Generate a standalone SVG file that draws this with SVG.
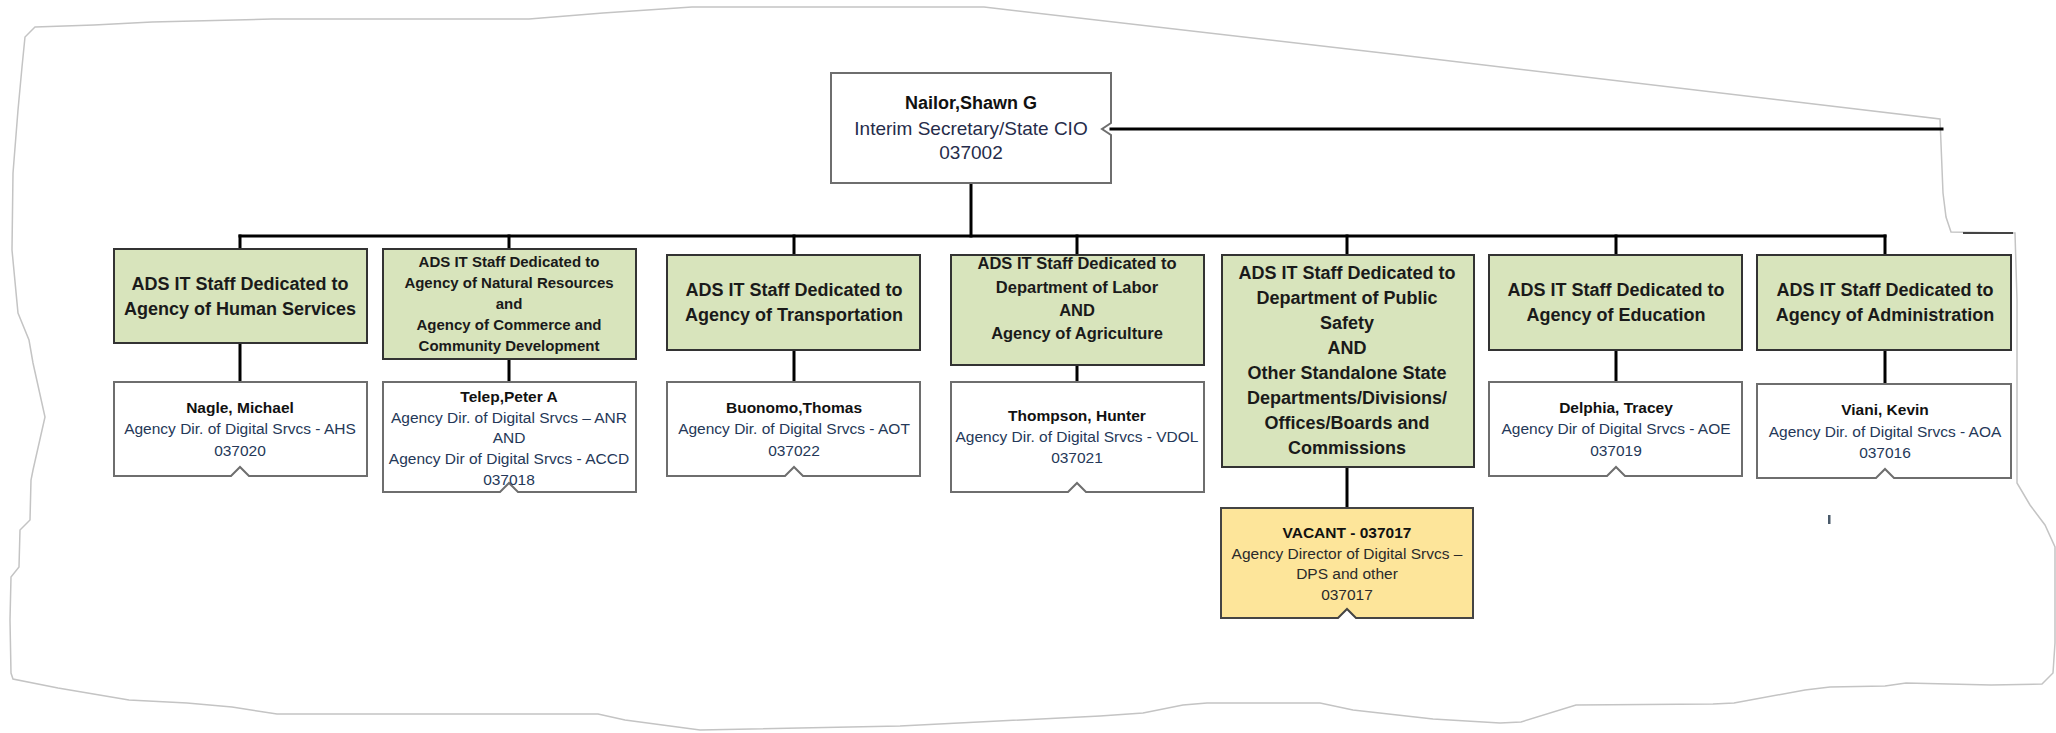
<svg xmlns="http://www.w3.org/2000/svg" width="2056" height="733" viewBox="0 0 2056 733">
<style>
.bg{fill:#ffffff}
.outline{fill:none;stroke:#c4c4c4;stroke-width:1.5}
.conn{fill:none;stroke:#000;stroke-width:3;stroke-linecap:square}
.green{fill:#d8e4bc;stroke:#333;stroke-width:2}
.white{fill:#fff;stroke:#6e6e6e;stroke-width:2}
.vac{fill:#fde59a;stroke:#444;stroke-width:2}
text{font-family:"Liberation Sans",Arial,sans-serif;text-anchor:middle}
.gh{font-size:18px;font-weight:bold;fill:#1a1a1a}
.gs{font-size:15px;font-weight:bold;fill:#1a1a1a}
.gm{font-size:16.5px;font-weight:bold;fill:#1a1a1a}
.nm{font-size:15.5px;font-weight:bold;fill:#111}
.tt{font-size:15.5px;fill:#253858}
.vt{font-size:15.5px;fill:#2a2a2a}
.tn{font-size:18px;font-weight:bold;fill:#111}
.tr{font-size:19px;fill:#262c4a}
</style>
<rect class="bg" x="0" y="0" width="2056" height="733"/>
<polygon class="outline" points="35,27 94,25 152,22 272,19 529,19 603,13 692,7 984,7 1400,55 1940,119 1943,193 1946,217 1951,232 2015,233 2017,300 2017,483 2030,505 2045,525 2055,547 2055,643 2053,673 2042,684 1991,685 1906,683 1885,686 1830,687 1805,690 1734,703 1713,704 1576,705 1521,722 1500,723 1433,719 1353,710 1320,703 1207,703 1183,705 1143,713 1100,716 900,726 700,730 625,720 598,714 277,714 232,707 187,703 129,700 58,688 13,679 11,673 10,620 11,577 19,567 20,530 30,520 31,480 33,470 45,417 33,363 29,340 18,313 12,250 13,173 18,110 22,67 25,37"/>
<line x1="1963" y1="233" x2="2013" y2="233" stroke="#444" stroke-width="2"/>
<rect x="1828" y="515" width="2.5" height="9" fill="#4a5a6a"/>
<g id="connectors">
<path class="conn" d="M971,183 V236"/>
<path class="conn" d="M240,236 H1885"/>
<path class="conn" d="M1111,129 H1942"/>
<path class="conn" d="M240,236 V249 M240,343 V382"/>
<path class="conn" d="M509,236 V249 M509,359 V382"/>
<path class="conn" d="M794,236 V255 M794,350 V382"/>
<path class="conn" d="M1077,236 V255 M1077,365 V382"/>
<path class="conn" d="M1347,236 V255 M1347,467 V508"/>
<path class="conn" d="M1616,236 V255 M1616,350 V382"/>
<path class="conn" d="M1885,236 V255 M1885,350 V384"/>
</g>
<g id="nailor">
<path class="white" d="M831,73 H1111 V123 L1102,129 L1111,135 V183 H831 Z"/>
<text class="tn" x="971" y="109">Nailor,Shawn G</text>
<text class="tr" x="971" y="135">Interim Secretary/State CIO</text>
<text class="tr" x="971" y="159">037002</text>
</g>
<g id="g-ahs">
<rect class="green" x="114" y="249" width="253" height="94"/>
<text class="gh" x="240" y="290">ADS IT Staff Dedicated to</text>
<text class="gh" x="240" y="315">Agency of Human Services</text>
</g>
<g id="g-anr">
<rect class="green" x="383" y="249" width="253" height="110"/>
<text class="gs" x="509" y="267">ADS IT Staff Dedicated to</text>
<text class="gs" x="509" y="288">Agency of Natural Resources</text>
<text class="gs" x="509" y="309">and</text>
<text class="gs" x="509" y="330">Agency of Commerce and</text>
<text class="gs" x="509" y="351">Community Development</text>
</g>
<g id="g-aot">
<rect class="green" x="667" y="255" width="253" height="95"/>
<text class="gh" x="794" y="296">ADS IT Staff Dedicated to</text>
<text class="gh" x="794" y="321">Agency of Transportation</text>
</g>
<g id="g-labor">
<rect class="green" x="951" y="255" width="253" height="110"/>
<text class="gm" x="1077" y="269">ADS IT Staff Dedicated to</text>
<text class="gm" x="1077" y="293">Department of Labor</text>
<text class="gm" x="1077" y="316">AND</text>
<text class="gm" x="1077" y="339">Agency of Agriculture</text>
</g>
<g id="g-dps">
<rect class="green" x="1222" y="255" width="252" height="212"/>
<text class="gh" x="1347" y="279">ADS IT Staff Dedicated to</text>
<text class="gh" x="1347" y="304">Department of Public</text>
<text class="gh" x="1347" y="329">Safety</text>
<text class="gh" x="1347" y="354">AND</text>
<text class="gh" x="1347" y="379">Other Standalone State</text>
<text class="gh" x="1347" y="404">Departments/Divisions/</text>
<text class="gh" x="1347" y="429">Offices/Boards and</text>
<text class="gh" x="1347" y="454">Commissions</text>
</g>
<g id="g-aoe">
<rect class="green" x="1489" y="255" width="253" height="95"/>
<text class="gh" x="1616" y="296">ADS IT Staff Dedicated to</text>
<text class="gh" x="1616" y="321">Agency of Education</text>
</g>
<g id="g-aoa">
<rect class="green" x="1757" y="255" width="254" height="95"/>
<text class="gh" x="1885" y="296">ADS IT Staff Dedicated to</text>
<text class="gh" x="1885" y="321">Agency of Administration</text>
</g>
<g id="p-nagle">
<path class="white" d="M114,382 H367 V476 H249 L240,467 L231,476 H114 Z"/>
<text class="nm" x="240" y="413">Nagle, Michael</text>
<text class="tt" x="240" y="434">Agency Dir. of Digital Srvcs - AHS</text>
<text class="tt" x="240" y="456">037020</text>
</g>
<g id="p-telep">
<path class="white" d="M383,382 H636 V492 H518 L509,483 L500,492 H383 Z"/>
<text class="nm" x="509" y="402">Telep,Peter A</text>
<text class="tt" x="509" y="423">Agency Dir. of Digital Srvcs – ANR</text>
<text class="tt" x="509" y="443">AND</text>
<text class="tt" x="509" y="464">Agency Dir of Digital Srvcs - ACCD</text>
<text class="tt" x="509" y="485">037018</text>
</g>
<g id="p-buonomo">
<path class="white" d="M667,382 H920 V476 H803 L794,467 L785,476 H667 Z"/>
<text class="nm" x="794" y="413">Buonomo,Thomas</text>
<text class="tt" x="794" y="434">Agency Dir. of Digital Srvcs - AOT</text>
<text class="tt" x="794" y="456">037022</text>
</g>
<g id="p-thompson">
<path class="white" d="M951,382 H1204 V492 H1086 L1077,483 L1068,492 H951 Z"/>
<text class="nm" x="1077" y="421">Thompson, Hunter</text>
<text class="tt" x="1077" y="442">Agency Dir. of Digital Srvcs - VDOL</text>
<text class="tt" x="1077" y="463">037021</text>
</g>
<g id="p-vacant">
<path class="vac" d="M1221,508 H1473 V618 H1356 L1347,609 L1338,618 H1221 Z"/>
<text class="nm" x="1347" y="538">VACANT - 037017</text>
<text class="vt" x="1347" y="559">Agency Director of Digital Srvcs –</text>
<text class="vt" x="1347" y="579">DPS and other</text>
<text class="vt" x="1347" y="600">037017</text>
</g>
<g id="p-delphia">
<path class="white" d="M1489,382 H1742 V476 H1625 L1616,467 L1607,476 H1489 Z"/>
<text class="nm" x="1616" y="413">Delphia, Tracey</text>
<text class="tt" x="1616" y="434">Agency Dir of Digital Srvcs - AOE</text>
<text class="tt" x="1616" y="456">037019</text>
</g>
<g id="p-viani">
<path class="white" d="M1757,384 H2011 V478 H1894 L1885,469 L1876,478 H1757 Z"/>
<text class="nm" x="1885" y="415">Viani, Kevin</text>
<text class="tt" x="1885" y="437">Agency Dir. of Digital Srvcs - AOA</text>
<text class="tt" x="1885" y="458">037016</text>
</g>
</svg>
